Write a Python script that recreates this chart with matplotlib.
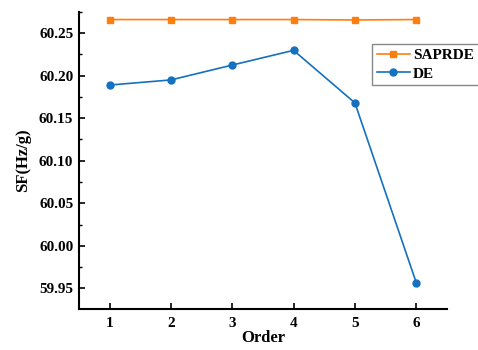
import matplotlib
matplotlib.use('Agg')
import matplotlib.pyplot as plt
from matplotlib.ticker import MultipleLocator

order = [1, 2, 3, 4, 5, 6]
saprde = [60.266, 60.266, 60.266, 60.266, 60.2655, 60.266]
de = [60.189, 60.195, 60.2125, 60.2298, 60.168, 59.9566]

plt.rcParams['font.family'] = 'Liberation Serif'
plt.rcParams['font.weight'] = 'bold'

fig = plt.figure(figsize=(4.78, 3.5), dpi=100)
ax = fig.add_axes([0.165, 0.117, 0.77, 0.849])

ax.plot(order, saprde, color='#FF7F0E', marker='s', markersize=4.5, linewidth=1.2, label='SAPRDE')
ax.plot(order, de, color='#1570BE', marker='o', markersize=5, linewidth=1.2, label='DE')

ax.set_xlim(0.5, 6.5)
ax.set_ylim(59.9256, 60.275)
ax.set_xticks(order)
ax.yaxis.set_major_locator(MultipleLocator(0.05))
ax.yaxis.set_minor_locator(MultipleLocator(0.025))
ax.yaxis.set_major_formatter(plt.FormatStrFormatter('%.2f'))

ax.spines['top'].set_visible(False)
ax.spines['right'].set_visible(False)
ax.spines['left'].set_linewidth(1.5)
ax.spines['bottom'].set_linewidth(1.5)
ax.tick_params(axis='both', which='major', direction='in', length=4, width=1.2, labelsize=11)
ax.tick_params(axis='y', which='major', pad=4)
ax.tick_params(axis='x', which='major', pad=6)
ax.tick_params(axis='y', which='minor', direction='in', length=2.5, width=1.0)

ax.set_xlabel('Order', fontsize=12, fontweight='bold', labelpad=0)
ax.set_ylabel('SF(Hz/g)', fontsize=12, fontweight='bold', labelpad=6)

# legend sits over the right edge of the axes
fig.legend(loc='upper left', bbox_to_anchor=(372 / 478, 1 - 44 / 350), fontsize=11,
           frameon=True, fancybox=False, edgecolor='#888888', framealpha=1,
           borderpad=0.3, borderaxespad=0, handlelength=2.2, handletextpad=0.2,
           labelspacing=0.3)

fig.savefig('out.png', dpi=100)
